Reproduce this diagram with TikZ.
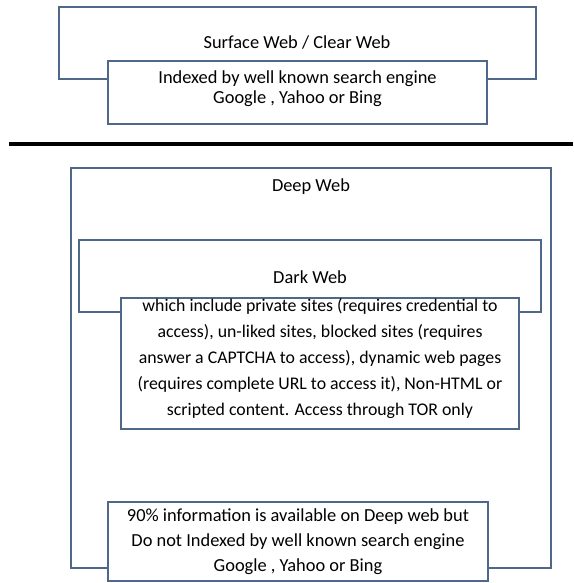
\documentclass[tikz,border=0pt]{standalone}
\usepackage{fontspec}
\setmainfont{Carlito}
\definecolor{boxline}{RGB}{79,104,138}
\tikzset{
  x=1pt, y=-1pt,
  frame/.style={draw=boxline, line width=2pt, fill=white, inner sep=0pt, outer sep=0pt},
  txt/.style={align=center, inner sep=0pt, text=black},
}
\newcommand{\boxat}[5]{% name, left, top, right, bottom
  \node[frame, minimum width=#4-#2, minimum height=#5-#3] (#1) at ({(#2+#4)/2},{(#3+#5)/2}) {};}
\begin{document}
\begin{tikzpicture}
\useasboundingbox (0,0) rectangle (573,583);
% upper part: surface web
\boxat{surface}{59}{7}{536}{79}
\node[txt, font=\fontsize{18.4}{20}\selectfont] (surfacelbl) at (297,43) {Surface Web / Clear Web};
\boxat{surfacetxt}{108}{61}{487}{124}
\node[txt, font=\fontsize{18.4}{20}\selectfont] (surfacedesc) at (297.5,89)
  {Indexed by well known search engine\\Google , Yahoo or Bing};
% separator
\coordinate (sepL) at (9,144);
\coordinate (sepR) at (573,144);
\draw[line width=3.5pt, black] (sepL) -- (sepR);
% lower part: deep web containing dark web
\boxat{deep}{71}{168}{551}{568}
\node[txt, font=\fontsize{18.4}{20}\selectfont] (deeplbl) at (311,187) {Deep Web};
\boxat{dark}{79}{240}{541}{312}
\node[txt, font=\fontsize{18.4}{20}\selectfont] (darklbl) at (310,277) {Dark Web};
\boxat{darktxt}{121}{298}{519}{429}
\node[txt, font=\fontsize{17.8}{26}\selectfont] (darkdesc) at (320,359)
  {which include private sites (requires credential to\\
   access), un-liked sites, blocked sites (requires\\
   answer a CAPTCHA to access), dynamic web pages\\
   (requires complete URL to access it), Non-HTML or\\
   scripted content. Access through TOR only};
\boxat{deeptxt}{108}{502}{488}{581}
\node[txt, font=\fontsize{18.4}{25}\selectfont] (deepdesc) at (298,542)
  {90\% information is available on Deep web but\\
   Do not Indexed by well known search engine\\
   Google , Yahoo or Bing};
\end{tikzpicture}
\end{document}
